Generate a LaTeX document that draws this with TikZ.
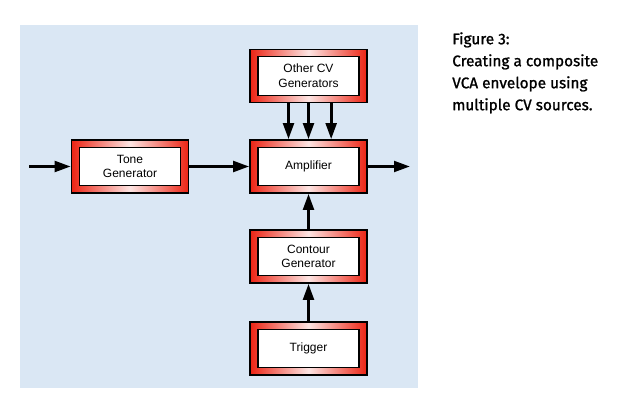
\documentclass[tikz,border=0pt]{standalone}
\usepackage{fontspec}
\setmainfont{Liberation Sans}
\newfontfamily\captionfont[FakeBold=1.2]{Fira Sans}
\usetikzlibrary{arrows.meta,calc}

\definecolor{panelblue}{RGB}{218,231,244}
\definecolor{boxred}{RGB}{236,36,20}

\tikzset{
  blockbox/.style={draw=black,line width=1.2pt,minimum width=87.75pt,minimum height=39.75pt,
    left color=boxred,right color=boxred,middle color=boxred!12!white,
    align=center,font=\fontsize{9}{11}\selectfont,
    path picture={\draw[black,line width=0.9pt,fill=white]
      ($(path picture bounding box.south west)+(6pt,5.5pt)$) rectangle
      ($(path picture bounding box.north east)+(-6pt,-5.5pt)$);}},
  sigarrow/.style={line width=2.2pt,-{Triangle[length=12pt,width=8pt]}}
}

\begin{document}
\begin{tikzpicture}[x=0.75pt,y=0.75pt,yscale=-1]
  \useasboundingbox (0,0) rectangle (624,402);
  %Panel
  \fill[panelblue] (20,25) rectangle (418,388);

  %Blocks
  \node[blockbox] (cv) at (308.5,76) {Other CV\\Generators};
  \node[blockbox] (amp) at (308.5,166.5) {Amplifier};
  \node[blockbox] (tone) at (130,166.5) {Tone\\Generator};
  \node[blockbox] (contour) at (308.5,256.5) {Contour\\Generator};
  \node[blockbox] (trigger) at (308.5,348.5) {Trigger};
  \coordinate (in) at (29,166.5);
  \coordinate (out) at (410,166.5);

  %Signal path
  \draw[sigarrow] (in) -- (tone);
  \draw[sigarrow] (tone) -- (amp);
  \draw[sigarrow] (amp) -- (out);

  %Control voltages
  \draw[sigarrow] ([xshift=-15pt]cv.south) -- ([xshift=-15pt]amp.north);
  \draw[sigarrow] (cv.south) -- (amp.north);
  \draw[sigarrow] ([xshift=17pt]cv.south) -- ([xshift=17pt]amp.north);
  \draw[sigarrow] (contour) -- (amp);
  \draw[sigarrow] (trigger) -- (contour);

  %Caption
  \node[anchor=north west,align=left,inner sep=0pt,font=\captionfont\fontsize{11.5}{16.5}\selectfont] (caption) at (452,32)
    {Figure 3:\\Creating a composite\\VCA envelope using\\multiple CV sources.};
\end{tikzpicture}
\end{document}
